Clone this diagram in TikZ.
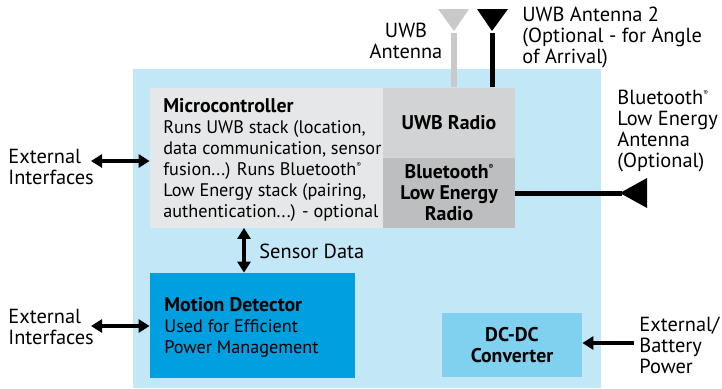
\documentclass[tikz,border=0pt]{standalone}
\usepackage{fontspec}
\setmainfont{PT Sans}
\usetikzlibrary{arrows.meta, positioning}

\definecolor{bgblue}{HTML}{C2E7F7}
\definecolor{mcugrey}{HTML}{E6E7E8}
\definecolor{uwbgrey}{HTML}{D1D3D4}
\definecolor{blegrey}{HTML}{BCBEC0}
\definecolor{antgrey}{HTML}{C8C9CB}
\definecolor{motionblue}{HTML}{009FDF}
\definecolor{dcblue}{HTML}{80D0F0}

\newcommand{\regmark}{\raisebox{0.85ex}{\fontsize{3.5pt}{3.5pt}\selectfont ®}}
\newcommand{\boxtitle}[1]{{\fontsize{9.9pt}{10.5pt}\selectfont\bfseries #1}}

\tikzset{
	box/.style={rectangle, inner sep=0pt, draw=none},
	lbl/.style={inner sep=0pt, font=\fontsize{9.1pt}{10.5pt}\selectfont, align=left},
	outlbl/.style={lbl, font=\fontsize{10.2pt}{10.5pt}\selectfont},
	title/.style={lbl, font=\fontsize{9.9pt}{10.5pt}\selectfont\bfseries, align=center},
	conn/.style={line width=1.8pt, -{Triangle[length=5.5pt, width=6.5pt]}},
	bothconn/.style={line width=1.8pt, {Triangle[length=5.5pt, width=6.5pt]}-{Triangle[length=5.5pt, width=6.5pt]}}
}

\begin{document}
\begin{tikzpicture}[x=0.5pt, y=-0.5pt]
		\useasboundingbox (0,0) rectangle (722,388);
		
		% boxes
		\fill[bgblue] (133,69) rectangle (601,388);
		\node[box, fill=mcugrey, minimum width=116.5pt, minimum height=70pt] (mcu) at (266.5,157.5) {};
		\node[box, fill=uwbgrey, minimum width=66pt, minimum height=35pt] (uwb) at (449,122.5) {};
		\node[box, fill=blegrey, minimum width=66pt, minimum height=35pt] (ble) at (449,192.5) {};
		\node[box, fill=motionblue, minimum width=102.5pt, minimum height=52.5pt] (motion) at (252.5,325.5) {};
		\node[box, fill=dcblue, minimum width=70pt, minimum height=32pt] (dcdc) at (512,345) {};
		
		% texts in boxes
		\node[lbl, anchor=west] (mcutext) at (163,160) {\boxtitle{Microcontroller}\\Runs UWB stack (location,\\data communication, sensor\\fusion...) Runs Bluetooth\regmark\\Low Energy stack (pairing,\\authentication...) - optional};
		\node[title] (uwbtext) at (uwb) {UWB Radio};
		\node[title] (bletext) at (ble) {Bluetooth\regmark\\Low Energy\\Radio};
		\node[lbl, anchor=west] (motiontext) at (164,327) {\boxtitle{Motion Detector}\\Used for Efficient\\Power Management};
		\node[title] (dctext) at (dcdc) {DC-DC\\Converter};
		
		% outside labels
		\node[outlbl, anchor=west] (ext1) at (8,167) {External\\Interfaces};
		\node[outlbl, anchor=west] (ext2) at (8,327) {External\\Interfaces};
		\node[outlbl, anchor=west] (power) at (639,345) {External/\\Battery\\Power};
		\node[outlbl, anchor=west] (sensor) at (259,251) {Sensor Data};
		\node[outlbl, align=center] (uwbant) at (406,41) {UWB\\Antenna};
		\node[outlbl, anchor=west] (uwbant2) at (522,37) {UWB Antenna 2\\(Optional - for Angle\\of Arrival)};
		\node[outlbl, anchor=west] (bleant) at (617,131) {Bluetooth\regmark\\Low Energy\\Antenna\\(Optional)};
		
		% antennas
		\coordinate (a1) at (454,33);
		\coordinate (a2) at (492,33);
		\coordinate (a3) at (622,193);
		\draw[antgrey, line width=3pt] (uwb.north -| a1) -- (a1);
		\fill[antgrey] (438,9) -- (469,9) -- ([yshift=1pt]a1) -- cycle;
		\draw[line width=2.5pt] (uwb.north -| a2) -- (a2);
		\fill (477,9) -- (508,9) -- ([yshift=1pt]a2) -- cycle;
		\draw[line width=2.5pt] (ble.east |- a3) -- (a3);
		\fill ([xshift=-1pt]a3) -- (647,178) -- (647,208) -- cycle;
		
		% connectors
		\coordinate (e1) at (91,161);
		\coordinate (e2) at (91,326);
		\coordinate (bat) at (634,343);
		\coordinate (sd) at (244,250);
		\draw[bothconn] (e1) -- (e1 -| mcu.west);
		\draw[bothconn] (e2) -- (e2 -| motion.west);
		\draw[bothconn] (mcu.south -| sd) -- (motion.north -| sd);
		\draw[conn] (bat) -- (bat -| dcdc.east);
\end{tikzpicture}
\end{document}
